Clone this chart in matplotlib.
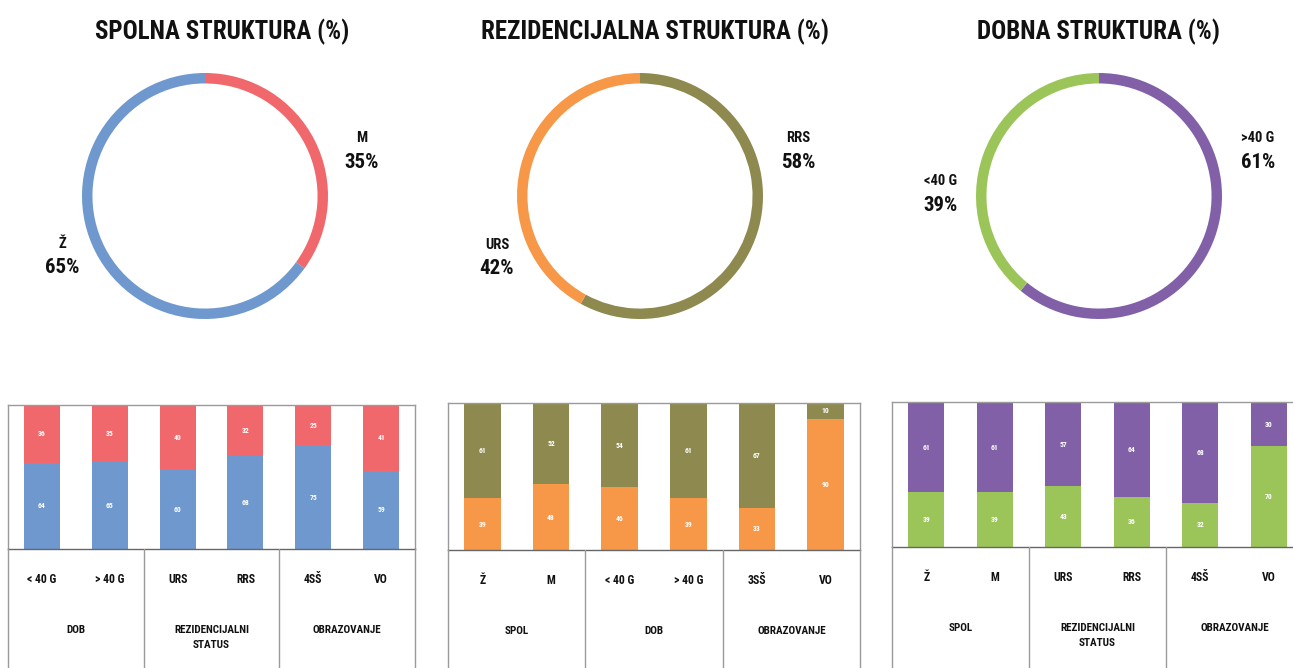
import matplotlib
matplotlib.use("Agg")
import matplotlib.pyplot as plt
import numpy as np

plt.rcParams['font.family'] = ['Roboto Condensed', 'DejaVu Sans']
plt.rcParams['font.stretch'] = 'condensed'
plt.rcParams['font.weight'] = 'bold'

W, H = 1293, 668

# ---- donut data ----
titles = ["SPOLNA STRUKTURA (%)", "REZIDENCIJALNA STRUKTURA (%)", "DOBNA STRUKTURA (%)"]
sex_labels = ["M", "Ž"]
sex_vals = [35, 65]
res_labels = ["RRS", "URS"]
res_vals = [58, 42]
age_labels = [">40 G", "<40 G"]
age_vals = [61, 39]

# ---- bar data ----
p1_cats = ["< 40 G", "> 40 G", "URS", "RRS", "4SŠ", "VO"]
p1_groups = ["DOB", "REZIDENCIJALNI\nSTATUS", "OBRAZOVANJE"]
p1_zene = [64, 65, 60, 68, 75, 59]
p1_muski = [36, 35, 40, 32, 25, 41]

p2_cats = ["Ž", "M", "< 40 G", "> 40 G", "3SŠ", "VO"]
p2_groups = ["SPOL", "DOB", "OBRAZOVANJE"]
p2_urs = [39, 48, 46, 39, 33, 90]
p2_rrs = [61, 52, 54, 61, 67, 10]

p3_cats = ["Ž", "M", "URS", "RRS", "4SŠ", "VO"]
p3_groups = ["SPOL", "REZIDENCIJALNI\nSTATUS", "OBRAZOVANJE"]
p3_mladi = [39, 39, 43, 36, 32, 70]
p3_stariji = [61, 61, 57, 64, 68, 30]

BLUE, RED = "#6E98CE", "#F0686B"
OLIVE, ORANGE = "#8E894E", "#F79848"
PURPLE, GREEN = "#8260A8", "#9BC558"

fig = plt.figure(figsize=(W / 100, H / 100), dpi=100)


def px_axes(x0, y0, x1, y1):
    # pixel box (top-left origin) -> figure axes
    return fig.add_axes([x0 / W, 1 - y1 / H, (x1 - x0) / W, (y1 - y0) / H])


def donut(cx, cy, r, vals, colors, title, title_x, labels_pos):
    ax = px_axes(cx - r, cy - r, cx + r, cy + r)
    ax.pie(vals, colors=colors, startangle=90, counterclock=False, radius=1,
           wedgeprops=dict(width=0.085, linewidth=0))
    ax.set_xlim(-1, 1)
    ax.set_ylim(-1, 1)
    ax.set_aspect("equal")
    ax.axis("off")
    fig.text(title_x / W, 1 - 32 / H, title, ha="center", va="center",
             fontsize=18, fontweight="bold", color="#111111")
    for (lab, val), (lx, ly) in zip(labels_pos[0], labels_pos[1]):
        fig.text(lx / W, 1 - ly / H, lab, ha="center", va="center",
                 fontsize=10.5, fontweight="bold", color="#111111")
        fig.text(lx / W, 1 - (ly + 24) / H, f"{val}%", ha="center", va="center",
                 fontsize=15, fontweight="bold", color="#111111")


donut(205, 196, 123, sex_vals, [RED, BLUE], titles[0], 222,
      (list(zip(sex_labels, sex_vals)), [(362, 138), (62, 244)]))
donut(640, 196, 123, res_vals, [OLIVE, ORANGE], titles[1], 655,
      (list(zip(res_labels, res_vals)), [(798, 138), (497, 245)]))
donut(1099, 196, 123, age_vals, [PURPLE, GREEN], titles[2], 1098,
      (list(zip(age_labels, age_vals)), [(1258, 138), (940, 181)]))


def bar_panel(x0, x1, top, base, cats, groups, bottom_vals, top_vals,
              c_bottom, c_top, lo):
    ax = px_axes(x0, top, x1, base)
    x = np.arange(len(cats))
    ax.bar(x, bottom_vals, width=0.53, bottom=0, color=c_bottom, linewidth=0)
    ax.bar(x, top_vals, width=0.53, bottom=bottom_vals, color=c_top, linewidth=0)
    ax.set_xlim(-0.5, len(cats) - 0.5)
    ax.set_ylim(lo, 100)
    for xi, b, t in zip(x, bottom_vals, top_vals):
        ax.text(xi, (lo + b) / 2, str(b), ha="center", va="center",
                fontsize=5.5, color="white")
        ax.text(xi, b + t / 2, str(t), ha="center", va="center",
                fontsize=5.5, color="white")
    ax.set_xticks([])
    ax.set_yticks([])
    for s in ax.spines.values():
        s.set_color("#9a9a9a")
        s.set_linewidth(1)
    ax.spines["bottom"].set_color("#666666")

    # table under the bars
    tb = px_axes(x0, base, x1, H + 20)
    tb.set_xlim(-0.5, len(cats) - 0.5)
    tb.set_ylim(H + 20, base)
    tb.set_xticks([])
    tb.set_yticks([])
    for s in tb.spines.values():
        s.set_color("#9a9a9a")
        s.set_linewidth(1)
    tb.spines["top"].set_visible(False)
    tb.set_facecolor("none")
    for k in (1.5, 3.5):
        tb.axvline(k, color="#9a9a9a", lw=1)
    for xi, c in zip(x, cats):
        tb.text(xi, base + 31, c, ha="center", va="center", fontsize=8.5,
                fontweight="bold", color="#111111")
    for gi, g in enumerate(groups):
        tb.text(2 * gi + 0.5, base + 76, g, ha="center", va="top", fontsize=8,
                fontweight="bold", color="#111111", linespacing=1.6)


bar_panel(8, 415, 405, 549, p1_cats, p1_groups, p1_zene, p1_muski, BLUE, RED, 10)
bar_panel(448, 860, 403, 550, p2_cats, p2_groups, p2_urs, p2_rrs, ORANGE, OLIVE, 6)
bar_panel(892, 1303, 402, 547, p3_cats, p3_groups, p3_mladi, p3_stariji, GREEN, PURPLE, 2)

fig.savefig("out.png", dpi=100, facecolor="white")
